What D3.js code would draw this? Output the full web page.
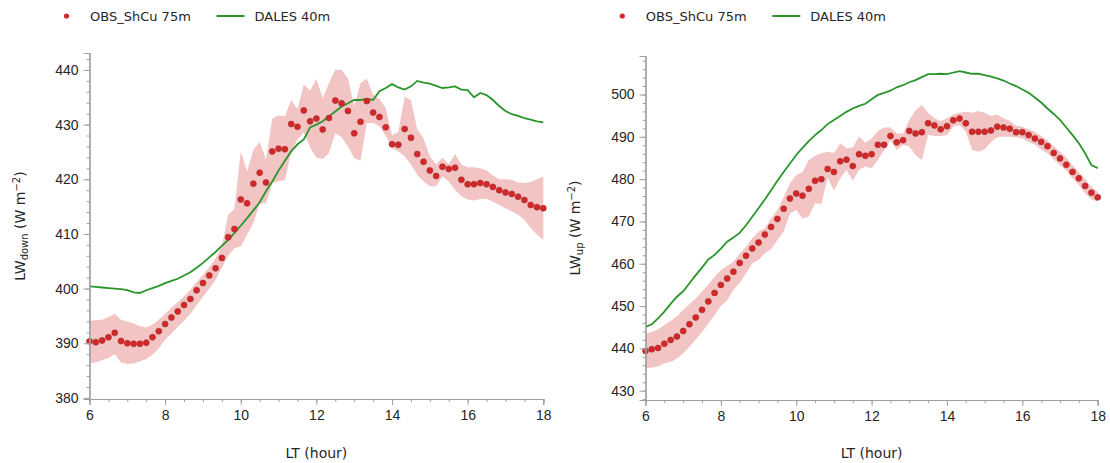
<!DOCTYPE html>
<meta charset="utf-8" />
<style>
  body { margin: 0; background: #fff; }
  svg { font-family: "DejaVu Sans", sans-serif; }
  .tick text { font-size: 14px; fill: #262626; }
  .lab { font-size: 14px; fill: #262626; }
  .leg { font-size: 13px; fill: #262626; }
</style>
<body>
<script src="https://d3js.org/d3.v7.min.js"></script>
<script>
// sample times: every 10 minutes from 06:00 to 18:00 LT
var hours = d3.range(73).map(function(i) { return 6 + i / 6; });

// left panel: LW down
var obsDown = [390.35, 390.2, 390.5, 391.1, 391.9, 390.4, 390.0, 389.9, 389.9, 390.1, 391.1, 392.2, 393.5, 394.7, 395.8, 397.0, 398.1, 399.7, 401.0, 402.4, 403.7, 405.6,
  409.4, 410.9, 416.3, 415.6, 419.2, 421.2, 419.4, 425.1, 425.6, 425.5, 430.1, 429.6, 432.6, 430.6, 431.1,
  429.1, 431.2, 434.4, 433.9, 432.5, 428.4, 430.5, 434.3, 432.2, 431.4, 429.5, 426.4, 426.3, 429.2, 427.6, 424.6, 423.2, 421.6, 420.6, 422.3, 421.9, 422.1, 419.9,
  419.1, 419.1, 419.3, 419.1, 418.6, 418.0, 417.6, 417.3, 416.8, 416.2, 415.3, 414.9, 414.7];
var obsDownHi = [394.1, 394.2, 394.3, 394.8, 395.4, 394.3, 394.0, 393.6, 393.1, 392.9, 393.4, 394.3, 395.4, 396.5, 397.5, 398.6, 399.8, 401.2, 402.5, 403.9, 405.5, 407.7,
  413.5, 414.6, 425.1, 421.4, 425.4, 426.8, 423.6, 431.1, 431.7, 431.5, 434.5, 432.8, 437.4, 436.2, 438.4,
  434.8, 437.6, 440.1, 440.0, 438.5, 433.3, 437.6, 438.4, 435.4, 434.7, 433.0, 428.0, 428.7, 435.1, 434.5, 429.1, 427.5, 424.2, 422.7, 424.0, 422.7, 424.6, 422.7,
  422.2, 422.2, 422.0, 421.6, 420.7, 420.0, 420.0, 419.9, 419.4, 419.3, 419.5, 420.0, 420.5];
var obsDownLo = [386.4, 386.5, 386.9, 387.3, 388.0, 386.5, 386.2, 386.3, 386.7, 387.1, 387.9, 389.1, 390.7, 391.8, 393.0, 394.1, 395.4, 397.0, 398.5, 400.0, 401.6, 403.8,
  406.0, 407.4, 407.7, 409.9, 412.0, 415.5, 415.6, 419.3, 419.7, 419.8, 425.1, 427.3, 428.6, 425.8, 424.0,
  423.7, 424.8, 428.4, 427.7, 426.0, 423.9, 423.4, 430.3, 430.3, 429.7, 427.9, 425.7, 425.1, 424.2, 422.7, 420.8, 419.6, 418.7, 418.7, 420.5, 419.6, 418.1, 416.9,
  416.3, 416.1, 416.4, 416.4, 415.9, 415.3, 414.7, 414.1, 413.5, 412.6, 411.1, 409.9, 408.9];
var dalesDown = [400.4, 400.3, 400.2, 400.1, 400.0, 399.9, 399.7, 399.3, 399.2, 399.7, 400.1, 400.5, 401.0, 401.4, 401.8, 402.4, 403.0, 403.8, 404.7, 405.7, 406.7, 407.8,
  408.9, 410.2, 411.5, 412.9, 414.3, 415.8, 417.8, 419.6, 421.6, 423.4, 425.1, 426.4, 427.3, 429.5, 430.0,
  430.6, 431.5, 432.4, 433.3, 433.9, 434.5, 434.5, 434.7, 434.5, 436.1, 436.7, 437.4, 436.8, 436.4, 437.0, 438.0, 437.7, 437.5, 437.1, 436.7, 436.8, 437.0, 436.4,
  436.3, 435.0, 435.8, 435.4, 434.5, 433.4, 432.5, 431.9, 431.6, 431.2, 430.9, 430.6, 430.4];

// right panel: LW up
var obsUp = [439.4, 439.8, 440.1, 441.1, 442.0, 442.8, 444.1, 445.7, 447.3, 449.1, 451.1, 453.1, 455.0, 456.5, 458.1, 460.2, 461.9, 463.6, 465.0, 466.9,
  468.7, 470.6, 473.0, 475.4, 476.6, 476.1, 477.7, 479.6, 480.0, 482.4, 481.7, 484.2, 484.6, 483.1, 485.9, 485.5, 485.9,
  488.1, 488.1, 490.2, 488.7, 489.2, 491.4, 490.8, 491.1, 493.2, 492.7, 491.8, 492.5, 493.9, 494.3, 493.2, 491.2, 491.2, 491.2, 491.5, 492.4, 492.2, 491.9, 491.1,
  491.1, 490.4, 489.6, 488.8, 487.8, 486.2, 484.9, 483.4, 481.7, 480.2, 478.4, 476.8, 475.7];
var obsUpHi = [443.5, 443.9, 444.5, 445.5, 446.5, 447.6, 449.1, 450.5, 451.8, 453.4, 455.1, 456.9, 458.5, 459.5, 460.5, 462.4, 464.0, 466.0, 467.6, 468.4,
  470.7, 472.7, 475.8, 479.0, 481.0, 481.7, 484.5, 485.5, 486.1, 486.5, 486.2, 488.5, 487.3, 487.5, 490.0, 488.6, 489.6,
  491.4, 492.2, 492.2, 490.8, 490.8, 494.0, 496.2, 497.5, 495.6, 494.4, 493.7, 494.4, 495.3, 495.7, 495.9, 495.7, 496.1, 495.7, 494.9, 495.3, 494.4, 493.8, 492.6,
  492.4, 491.8, 491.2, 490.2, 489.2, 487.8, 486.5, 485.1, 483.3, 481.7, 480.0, 478.2, 477.0];
var obsUpLo = [435.3, 435.5, 435.7, 436.5, 436.8, 437.6, 438.8, 440.4, 442.1, 443.9, 445.9, 447.9, 450.0, 451.4, 453.8, 455.5, 457.7, 460.1, 460.9, 462.5,
  463.4, 465.6, 467.6, 471.9, 472.7, 470.7, 471.1, 474.3, 474.1, 480.4, 477.3, 480.2, 482.2, 479.6, 482.2, 483.0, 482.5,
  484.5, 486.9, 489.2, 486.9, 488.1, 487.7, 485.7, 484.5, 490.4, 490.2, 490.2, 490.4, 492.4, 492.8, 491.2, 486.9, 486.5, 487.0, 488.8, 489.9, 490.0, 490.0, 489.9,
  489.6, 488.8, 488.1, 487.0, 486.1, 484.7, 483.3, 482.0, 480.2, 478.6, 476.6, 475.2, 474.7];
var dalesUp = [445.1, 445.7, 447.1, 448.7, 450.5, 452.2, 453.5, 455.4, 457.3, 459.1, 461.0, 462.1, 463.6, 465.2, 466.2, 467.3, 469.1, 471.1, 473.1, 475.2,
  477.4, 479.6, 481.7, 483.7, 485.7, 487.4, 489.0, 490.4, 491.6, 493.0, 494.0, 494.9, 495.9, 496.7, 497.3, 497.8, 498.9,
  499.9, 500.4, 500.9, 501.7, 502.2, 502.9, 503.4, 504.1, 504.8, 504.8, 504.9, 504.8, 505.2, 505.5, 505.2, 504.9, 504.9, 504.6, 504.2, 503.8, 503.3, 502.6, 502.0,
  501.2, 500.4, 499.3, 498.1, 496.7, 495.4, 494.0, 492.2, 490.4, 488.5, 486.1, 483.3, 482.6];

var xTicks = [6, 8, 10, 12, 14, 16, 18];
var downTicks = [380, 390, 400, 410, 420, 430, 440];
var upTicks = [430, 440, 450, 460, 470, 480, 490, 500];
var legendNames = ["OBS_ShCu 75m", "DALES 40m"];

var width = 1110, height = 463;
var red = "#d62728", green = "#2a952a", band = "#f2c4c4", axisGrey = "#a0a0a0";

var svg = d3.select("body").append("svg")
  .attr("width", width)
  .attr("height", height);

function panel(opts) {
  var g = svg.append("g");
  var x = d3.scaleLinear().domain([6, 18]).range([opts.left, opts.right]);
  var y = d3.scaleLinear().domain(opts.ydom).range([opts.bottom, opts.top]);

  // shaded spread
  var area = d3.area()
    .x(function(d, i) { return x(hours[i]); })
    .y0(function(d, i) { return y(opts.lo[i]); })
    .y1(function(d, i) { return y(opts.hi[i]); });
  g.append("path").datum(opts.obs).attr("d", area).attr("fill", band);

  // DALES line
  var line = d3.line()
    .x(function(d, i) { return x(hours[i]); })
    .y(function(d) { return y(d); });
  g.append("path").datum(opts.dales).attr("d", line)
    .attr("fill", "none").attr("stroke", green).attr("stroke-width", 1.8);

  // observations
  g.selectAll(".obs").data(opts.obs).enter().append("circle")
    .attr("class", "obs")
    .attr("cx", function(d, i) { return x(hours[i]); })
    .attr("cy", function(d) { return y(d); })
    .attr("r", 3)
    .attr("fill", red)
    .attr("stroke", "#9e2a2a")
    .attr("stroke-width", 0.6);

  // axes: minor then major
  var xMinor = d3.axisBottom(x).tickValues(d3.range(6, 18.01, 0.5)).tickSize(3).tickFormat("");
  var xMajor = d3.axisBottom(x).tickValues(xTicks).tickSize(6).tickPadding(5).tickFormat(d3.format("d"));
  var yMinor = d3.axisLeft(y).tickValues(d3.range(Math.ceil(opts.ydom[0] / 2) * 2, opts.ydom[1], 2)).tickSize(3).tickFormat("");
  var yMajor = d3.axisLeft(y).tickValues(opts.yticks).tickSize(6).tickPadding(5).tickFormat(d3.format("d"));

  [xMinor, xMajor].forEach(function(ax) {
    g.append("g").attr("transform", "translate(0," + opts.bottom + ")").call(ax);
  });
  [yMinor, yMajor].forEach(function(ax) {
    g.append("g").attr("transform", "translate(" + opts.left + ",0)").call(ax);
  });
  g.selectAll(".domain").attr("stroke", axisGrey).attr("stroke-width", 1.2);
  g.selectAll(".tick line").attr("stroke", axisGrey);

  // labels
  g.append("text").attr("class", "lab")
    .attr("x", (opts.left + opts.right) / 2).attr("y", 458)
    .attr("text-anchor", "middle").text("LT (hour)");

  var yl = g.append("text").attr("class", "lab")
    .attr("transform", "translate(" + opts.ylabX + "," + (opts.top + opts.bottom) / 2 + ") rotate(-90)")
    .attr("text-anchor", "middle");
  yl.append("tspan").text("LW");
  yl.append("tspan").attr("font-size", "10px").attr("dy", 3).text(opts.sub);
  yl.append("tspan").attr("dy", -3).text(" (W m");
  yl.append("tspan").attr("font-size", "10px").attr("dy", -5).text("\u22122");
  yl.append("tspan").attr("dy", 5).text(")");

  // legend
  var lg = g.append("g").attr("transform", "translate(" + opts.legX + ",16)");
  lg.append("circle").attr("cx", 0).attr("cy", 0).attr("r", 2.6).attr("fill", red);
  lg.append("text").attr("class", "leg").attr("x", 23.5).attr("y", 5).text(legendNames[0]);
  lg.append("line").attr("x1", 150).attr("x2", 178).attr("y1", 0).attr("y2", 0)
    .attr("stroke", green).attr("stroke-width", 2);
  lg.append("text").attr("class", "leg").attr("x", 188).attr("y", 5).text(legendNames[1]);
}

panel({
  left: 89.5, right: 543.3, top: 53, bottom: 399,
  ydom: [379.8, 443.1], yticks: downTicks,
  obs: obsDown, hi: obsDownHi, lo: obsDownLo, dales: dalesDown,
  sub: "down", ylabX: 25, legX: 66.5
});
panel({
  left: 645.5, right: 1097.7, top: 56, bottom: 400,
  ydom: [427.8, 509.1], yticks: upTicks,
  obs: obsUp, hi: obsUpHi, lo: obsUpLo, dales: dalesUp,
  sub: "up", ylabX: 580, legX: 622.3
});
</script>
</body>
